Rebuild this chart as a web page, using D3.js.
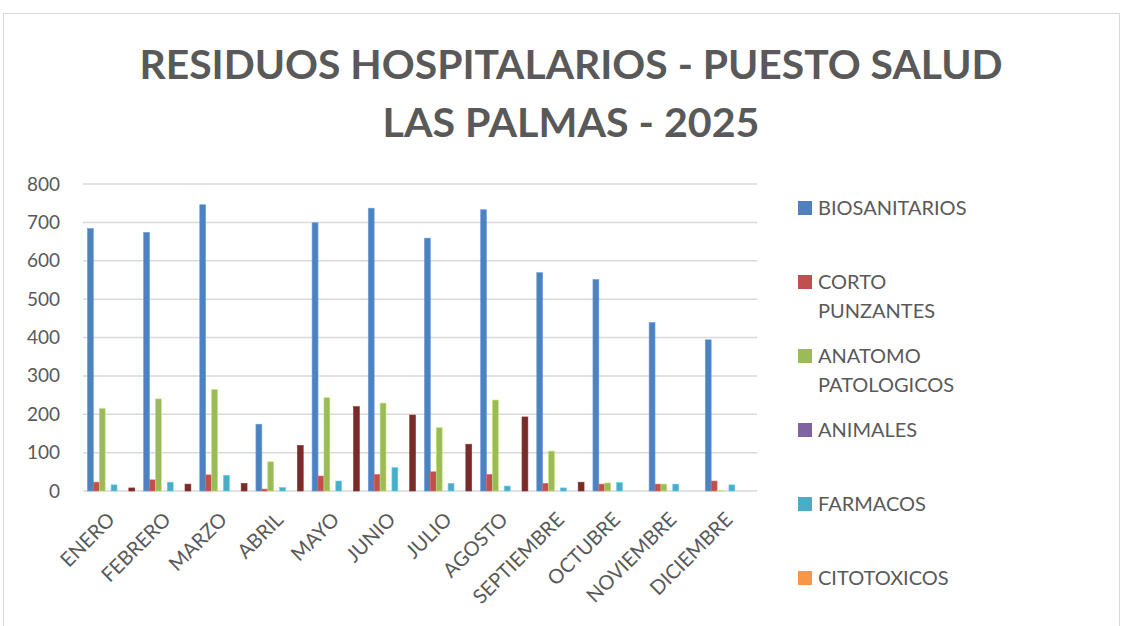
<!DOCTYPE html>
<html>
<head>
<meta charset="utf-8">
<script src="https://cdn.jsdelivr.net/npm/d3@7"></script>
<style>
  html, body { margin: 0; padding: 0; background: #fff; }
  svg { display: block; }
  text { font-family: Lato, "Open Sans", sans-serif; fill: #595959; }
</style>
</head>
<body>
<svg id="chart" width="1123" height="626"></svg>
<script>
// Monthly waste (kg) by category
const months = ["ENERO", "FEBRERO", "MARZO", "ABRIL", "MAYO", "JUNIO", "JULIO",
                "AGOSTO", "SEPTIEMBRE", "OCTUBRE", "NOVIEMBRE", "DICIEMBRE"];

const biosanitarios      = [684, 674, 746, 174, 699, 737, 659, 733, 569, 551, 439, 394];
const cortoPunzantes     = [23, 29, 42, 5, 39, 43, 50, 43, 20, 18, 18, 26];
const anatomoPatologicos = [215, 240, 264, 76, 243, 229, 165, 237, 104, 21, 18, 1];
const animales           = [0, 0, 0, 0, 0, 0, 0, 0, 0, 0, 0, 0];
const farmacos           = [16, 23, 41, 9, 26, 61, 20, 13, 8, 22, 18, 16];
const citotoxicos        = [0, 0, 0, 0, 0, 0, 0, 0, 0, 0, 0, 0];
const serie7             = [0, 0, 0, 0, 0, 0, 0, 0, 0, 0, 0, 0];
const serie8             = [8, 18, 20, 119, 220, 198, 122, 193, 23, 0, 0, 0];

const yTicks = [0, 100, 200, 300, 400, 500, 600, 700, 800];

const series = [
  { name: ["BIOSANITARIOS"],            values: biosanitarios,      color: "#4F81BD", legend: true },
  { name: ["CORTO", "PUNZANTES"],       values: cortoPunzantes,     color: "#C0504D", legend: true },
  { name: ["ANATOMO", "PATOLOGICOS"],   values: anatomoPatologicos, color: "#9BBB59", legend: true },
  { name: ["ANIMALES"],                 values: animales,           color: "#8064A2", legend: true },
  { name: ["FARMACOS"],                 values: farmacos,           color: "#4BACC6", legend: true },
  { name: ["CITOTOXICOS"],              values: citotoxicos,        color: "#F79646", legend: true },
  { name: ["SERIE 7"],                  values: serie7,             color: "#2C4D75", legend: false },
  { name: ["SERIE 8"],                  values: serie8,             color: "#772C2A", legend: false }
];

const svg = d3.select("#chart");

// chart area frame
svg.append("rect")
  .attr("x", 3.5).attr("y", 13.5)
  .attr("width", 1116).attr("height", 640)
  .attr("fill", "#fff").attr("stroke", "#D9D9D9").attr("stroke-width", 1);

// title
const titleLines = [
  { text: "RESIDUOS HOSPITALARIOS - PUESTO SALUD", y: 79, len: 863 },
  { text: "LAS PALMAS - 2025", y: 137, len: 377 }
];
svg.append("g").selectAll("text").data(titleLines).join("text")
  .attr("x", 571).attr("y", d => d.y)
  .attr("text-anchor", "middle")
  .attr("font-size", 40).attr("font-weight", 700)
  .attr("textLength", d => d.len).attr("lengthAdjust", "spacingAndGlyphs")
  .text(d => d.text);

// scales
const plot = { left: 83, right: 757, top: 184, bottom: 491 };
const x0 = d3.scaleBand().domain(months).range([plot.left, plot.right]).padding(0);
const bw = x0.bandwidth();
const barW = bw / (series.length + 1.5);
const x1 = d3.scaleBand().domain(d3.range(series.length))
  .range([0.75 * barW, bw - 0.75 * barW]).padding(0);
const y = d3.scaleLinear().domain([0, 800]).range([plot.bottom, plot.top]);

// gridlines
svg.append("g").selectAll("line").data(yTicks).join("line")
  .attr("x1", plot.left).attr("x2", plot.right)
  .attr("y1", d => y(d)).attr("y2", d => y(d))
  .attr("stroke", "#D9D9D9").attr("stroke-width", 1.5);

// y axis labels
const yAxis = d3.axisLeft(y).tickValues(yTicks).tickSize(0).tickPadding(0);
const yg = svg.append("g").attr("transform", "translate(60,0)").call(yAxis);
yg.select(".domain").remove();
yg.selectAll("text").attr("font-size", 19).attr("fill", "#595959")
  .attr("font-family", "Lato, 'Open Sans', sans-serif");

// bars
const groups = svg.append("g").selectAll("g").data(months).join("g")
  .attr("transform", d => `translate(${x0(d)},0)`);
groups.selectAll("rect")
  .data((m, i) => series.map((s, k) => ({ k, v: s.values[i], color: s.color })))
  .join("rect")
  .attr("x", d => x1(d.k))
  .attr("width", x1.bandwidth())
  .attr("y", d => y(d.v))
  .attr("height", d => y(0) - y(d.v))
  .attr("fill", d => d.color)
  .attr("stroke", d => d3.color(d.color).brighter(0.6))
  .attr("stroke-width", d => d.v > 0 ? 0.6 : 0);

// x axis labels, rotated
svg.append("g").selectAll("text").data(months).join("text")
  .attr("text-anchor", "end")
  .attr("font-size", 20)
  .attr("dy", "0.35em")
  .attr("transform", d => `translate(${x0(d) + bw / 2},516) rotate(-45)`)
  .text(d => d);

// legend
const legendItems = series.filter(s => s.legend);
const lg = svg.append("g").selectAll("g").data(legendItems).join("g")
  .attr("transform", (d, i) => `translate(798,${201 + i * 74})`);
lg.append("rect").attr("width", 14).attr("height", 14).attr("fill", d => d.color);
lg.each(function (d) {
  const t = d3.select(this).append("text")
    .attr("x", 20).attr("y", 14).attr("font-size", 20);
  d.name.forEach((line, j) => {
    t.append("tspan").attr("x", 20).attr("dy", j === 0 ? 0 : 29).text(line);
  });
});
</script>
</body>
</html>
